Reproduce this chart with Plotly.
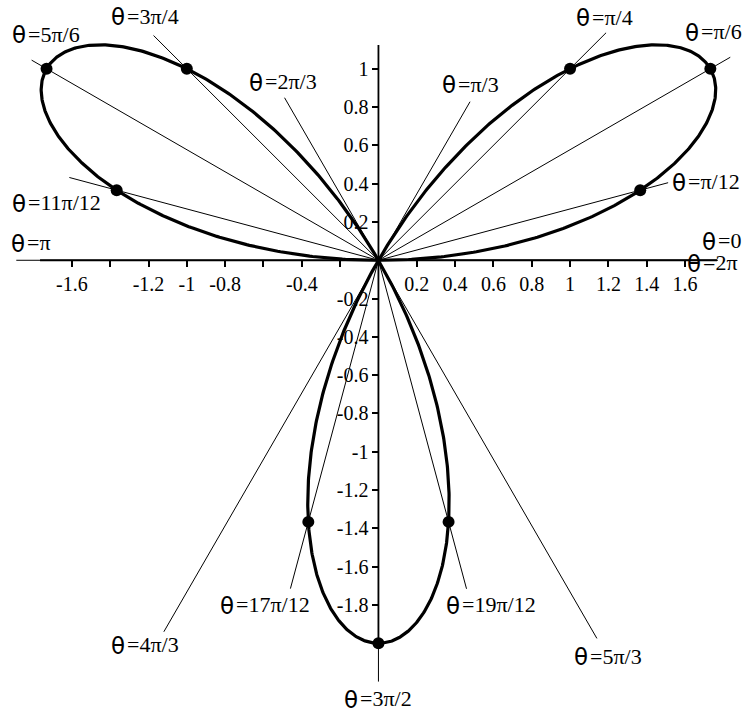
import numpy as np
import plotly.graph_objects as go

# Rose curve r = A * sin(K * theta)
AMPLITUDE = 2.0
PETALS_K = 3

# Marked angles, as fractions of pi (numerator, denominator) and their labels
ray_num = [0, 1, 1, 1, 1, 2, 3, 5, 11, 1, 4, 17, 3, 19, 5, 2]
ray_den = [1, 12, 6, 4, 3, 3, 4, 6, 12, 1, 3, 12, 2, 12, 3, 1]
ray_text = ["0", "π/12", "π/6", "π/4", "π/3", "2π/3", "3π/4", "5π/6", "11π/12",
            "π", "4π/3", "17π/12", "3π/2", "19π/12", "5π/3", "2π"]

# Angles that get a dot on the curve
dot_num = [1, 1, 1, 3, 5, 11, 17, 3, 19]
dot_den = [12, 6, 4, 4, 6, 12, 12, 2, 12]

# Axis ticks
x_tickvals = [-1.6, -1.4, -1.2, -1.0, -0.8, -0.6, -0.4, -0.2,
              0.2, 0.4, 0.6, 0.8, 1.0, 1.2, 1.4, 1.6]
x_ticktext = ["-1.6", "", "-1.2", "-1", "-0.8", "", "-0.4", "",
              "0.2", "0.4", "0.6", "0.8", "1", "1.2", "1.4", "1.6"]
y_tickvals = [-1.8, -1.6, -1.4, -1.2, -1.0, -0.8, -0.6, -0.4, -0.2,
              0.2, 0.4, 0.6, 0.8, 1.0]
y_ticktext = ["-1.8", "-1.6", "-1.4", "-1.2", "-1", "-0.8", "-0.6", "-0.4", "-0.2",
              "0.2", "0.4", "0.6", "0.8", "1"]

# Layout: guide-ray lengths and label left-edge / mid-height anchors (data units)
ray_len = [1.77, 1.565, 2.12, 1.68, 0.956, 0.98, 1.66, 2.09, 1.67,
           1.89, 2.24, 1.775, 2.2, 1.776, 2.28, 1.77]
label_xy = [(1.694, 0.096), (1.537, 0.404), (1.605, 1.187), (1.037, 1.265),
            (0.337, 0.915), (-0.670, 0.926), (-1.390, 1.270), (-1.907, 1.176),
            (-1.907, 0.294), (-1.912, 0.085), (-1.390, -2.014), (-0.822, -1.805),
            (-0.174, -2.296), (0.358, -1.805), (1.026, -2.072), (1.616, -0.019)]
THETA_W = 14  # px taken by the theta glyph before the "=" part

X_RANGE = [-1.975, 1.939]
Y_RANGE = [-2.364, 1.359]
X_AXIS_SPAN = [-1.766, 1.767]
Y_AXIS_SPAN = [-2.0, 1.124]


def rose(theta):
    r = AMPLITUDE * np.sin(PETALS_K * theta)
    return r * np.cos(theta), r * np.sin(theta)


theta = np.linspace(0, np.pi, 1200)
cx, cy = rose(theta)

fig = go.Figure()

# guide rays from the origin
rx, ry = [], []
for n, d, L in zip(ray_num, ray_den, ray_len):
    a = n * np.pi / d
    rx += [0, L * np.cos(a), None]
    ry += [0, L * np.sin(a), None]
fig.add_trace(go.Scatter(x=rx, y=ry, mode="lines",
                         line=dict(color="black", width=1), hoverinfo="skip"))

# axis lines through the origin
fig.add_trace(go.Scatter(x=[X_AXIS_SPAN[0], X_AXIS_SPAN[1], None, 0, 0],
                         y=[0, 0, None, Y_AXIS_SPAN[0], Y_AXIS_SPAN[1]],
                         mode="lines", line=dict(color="black", width=1.8),
                         hoverinfo="skip"))

# the rose
fig.add_trace(go.Scatter(x=cx, y=cy, mode="lines",
                         line=dict(color="black", width=3.2), hoverinfo="skip"))

# dots on the curve
dth = np.array([n * np.pi / d for n, d in zip(dot_num, dot_den)])
dx, dy = rose(dth)
fig.add_trace(go.Scatter(x=dx, y=dy, mode="markers",
                         marker=dict(color="black", size=12), cliponaxis=False,
                         hoverinfo="skip"))

# angle labels: sans theta followed by a serif "=value"
for txt, (lx, ly) in zip(ray_text, label_xy):
    fig.add_annotation(
        x=lx, y=ly, xref="x", yref="y", showarrow=False,
        xanchor="left", yanchor="middle", xshift=-2, borderpad=0,
        text="θ", font=dict(family="DejaVu Sans", size=23, color="black"),
    )
    fig.add_annotation(
        x=lx, y=ly, xref="x", yref="y", showarrow=False,
        xanchor="left", yanchor="middle", xshift=THETA_W, yshift=1, borderpad=0,
        text="=" + txt, font=dict(family="Liberation Serif", size=22, color="black"),
    )

xpos = (0 - Y_RANGE[0]) / (Y_RANGE[1] - Y_RANGE[0])
ypos = (0 - X_RANGE[0]) / (X_RANGE[1] - X_RANGE[0])

axis_common = dict(showgrid=False, zeroline=False, showline=False,
                   ticks="outside", ticklen=6, tickwidth=1.5, tickcolor="black",
                   tickfont=dict(family="Liberation Serif", size=20, color="black"),
                   tickmode="array", anchor="free", automargin=False)

fig.update_layout(
    width=750, height=713,
    margin=dict(l=0, r=0, t=0, b=0),
    paper_bgcolor="white", plot_bgcolor="white",
    showlegend=False,
    xaxis=dict(range=X_RANGE, tickvals=x_tickvals, ticktext=x_ticktext,
               position=xpos, **axis_common),
    yaxis=dict(range=Y_RANGE, tickvals=y_tickvals, ticktext=y_ticktext,
               position=ypos, **axis_common),
)

fig.write_html("out.html")
